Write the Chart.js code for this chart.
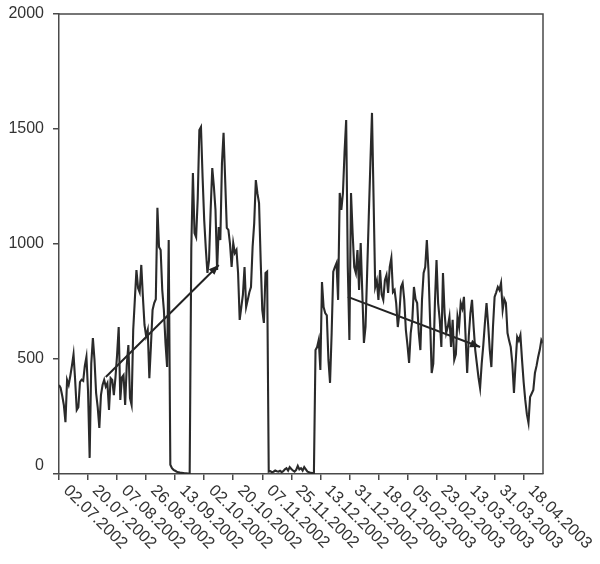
<!DOCTYPE html>
<html>
<head>
<meta charset="utf-8">
<script src="https://cdn.jsdelivr.net/npm/chart.js@4/dist/chart.umd.min.js"></script>
<style>
  html, body { margin: 0; padding: 0; background: #fff; }
  #wrap { width: 600px; height: 564px; }
</style>
</head>
<body>
<div id="wrap"><canvas id="c" width="600" height="564"></canvas></div>
<script>
// Date labels, one every 18 observations
const dateTicks = [
  '02.07.2002', '20.07.2002', '07.08.2002', '26.08.2002', '13.09.2002',
  '02.10.2002', '20.10.2002', '07.11.2002', '25.11.2002', '13.12.2002',
  '31.12.2002', '18.01.2003', '05.02.2003', '23.02.2003', '13.03.2003',
  '31.03.2003', '18.04.2003'
];
const tickStep = 18;

// Daily observations
const values = [
  387, 374, 340, 300, 225, 409, 387, 426, 470, 520,
  409, 278, 290, 400, 410, 405, 470, 509, 360, 70,
  480, 591, 496, 352, 290, 200, 343, 387, 409, 380,
  395, 278, 417, 409, 343, 420, 517, 639, 322, 420,
  430, 300, 474, 561, 330, 300, 626, 757, 887, 809,
  790, 909, 770, 648, 600, 626, 417, 560, 713, 743,
  760, 1157, 987, 974, 800, 713, 570, 465, 1017, 40,
  25, 18, 14, 10, 8, 6, 5, 4, 3, 3,
  2, 2, 980, 1309, 1048, 1030, 1200, 1496, 1509, 1291,
  1104, 980, 874, 930, 1148, 1330, 1250, 1148, 887, 1074,
  1017, 1350, 1483, 1278, 1070, 1061, 1000, 900, 1004, 961,
  974, 874, 670, 726, 780, 900, 726, 757, 790, 813,
  987, 1091, 1278, 1220, 1178, 930, 713, 657, 874, 880,
  10, 12, 8, 10, 15, 12, 10, 14, 8, 12,
  20, 25, 15, 30, 22, 15, 10, 18, 35, 20,
  25, 15, 30, 20, 10, 8, 5, 4, 3, 539,
  552, 583, 452, 835, 726, 700, 690, 496, 396, 613,
  880, 900, 917, 757, 1222, 1148, 1222, 1400, 1539, 900,
  583, 1222, 1048, 900, 874, 974, 800, 1004, 787, 570,
  640, 874, 1117, 1350, 1570, 1191, 813, 840, 757, 887,
  780, 757, 843, 865, 787, 900, 939, 791, 800, 743,
  639, 700, 813, 830, 757, 626, 560, 483, 613, 670,
  813, 760, 743, 613, 539, 757, 874, 900, 1017, 887,
  670, 439, 480, 743, 930, 743, 670, 552, 874, 700,
  613, 640, 683, 552, 670, 496, 520, 683, 639, 743,
  720, 770, 600, 439, 600, 700, 757, 640, 539, 480,
  420, 374, 480, 560, 657, 743, 650, 540, 465, 640,
  770, 790, 813, 800, 830, 713, 760, 743, 613, 580,
  552, 480, 352, 480, 596, 580, 604, 496, 400, 322,
  260, 222, 335, 350, 365, 439, 470, 509, 540, 583,
  570
];

// Trend arrows (observation index, value)
const trendUpX = [29, 99];
const trendUpY = [422, 909];
const trendDownX = [179, 261];
const trendDownY = [770, 552];

const yTicks = [0, 500, 1000, 1500, 2000];

const ink = '#333333';
const axisColor = '#4a4a4a';
const valueFont = '16px "Liberation Sans", Arial, sans-serif';
const dateFont = '16.5px "Liberation Sans", Arial, sans-serif';

const series = values.map((v, i) => ({ x: i, y: v }));
const toPoints = (xs, ys) => xs.map((x, i) => ({ x: x, y: ys[i] }));

// Frame, axis labels and arrowheads
const decorations = {
  id: 'decorations',
  afterDraw(chart) {
    const ctx = chart.ctx;
    const a = chart.chartArea;
    const xs = chart.scales.x;
    const ys = chart.scales.y;
    ctx.save();

    // top and right edges of the plot box
    ctx.strokeStyle = axisColor;
    ctx.lineWidth = 1.5;
    ctx.beginPath();
    ctx.moveTo(a.left, a.top);
    ctx.lineTo(a.right, a.top);
    ctx.lineTo(a.right, a.bottom);
    ctx.stroke();

    // arrowheads at the end of each trend line
    [1, 2].forEach(idx => {
      const pts = chart.getDatasetMeta(idx).data;
      const p0 = pts[0], p1 = pts[pts.length - 1];
      const ang = Math.atan2(p1.y - p0.y, p1.x - p0.x);
      const len = 10, half = 4;
      ctx.fillStyle = '#222';
      ctx.beginPath();
      ctx.moveTo(p1.x, p1.y);
      ctx.lineTo(p1.x - len * Math.cos(ang) + half * Math.sin(ang), p1.y - len * Math.sin(ang) - half * Math.cos(ang));
      ctx.lineTo(p1.x - len * Math.cos(ang) - half * Math.sin(ang), p1.y - len * Math.sin(ang) + half * Math.cos(ang));
      ctx.closePath();
      ctx.fill();
    });

    ctx.fillStyle = ink;

    // value labels; the zero label sits above its tick, clear of the dates
    ctx.font = valueFont;
    ctx.textAlign = 'right';
    yTicks.forEach(v => {
      const y = ys.getPixelForValue(v);
      ctx.textBaseline = v === 0 ? 'bottom' : 'middle';
      ctx.fillText(String(v), a.left - 15, y);
    });

    // date labels slanting down to the right from each tick
    ctx.font = dateFont;
    ctx.textAlign = 'left';
    ctx.textBaseline = 'middle';
    dateTicks.forEach((t, k) => {
      const x = xs.getPixelForValue(k * tickStep);
      ctx.save();
      ctx.translate(x + 7, a.bottom + 14);
      ctx.rotate(Math.PI / 4);
      ctx.fillText(t, 0, 0);
      ctx.restore();
    });

    ctx.restore();
  }
};

new Chart(document.getElementById('c'), {
  type: 'line',
  data: {
    datasets: [
      {
        data: series,
        borderColor: '#2a2a2a',
        borderWidth: 2.1,
        pointRadius: 0,
        tension: 0,
        fill: false
      },
      {
        data: toPoints(trendUpX, trendUpY),
        borderColor: '#222',
        borderWidth: 2,
        pointRadius: 0,
        tension: 0,
        fill: false
      },
      {
        data: toPoints(trendDownX, trendDownY),
        borderColor: '#222',
        borderWidth: 2,
        pointRadius: 0,
        tension: 0,
        fill: false
      }
    ]
  },
  options: {
    responsive: false,
    animation: false,
    devicePixelRatio: 1,
    layout: { padding: { left: 53, right: 57, top: 14, bottom: 84 } },
    plugins: { legend: { display: false }, tooltip: { enabled: false } },
    scales: {
      x: {
        type: 'linear',
        min: 0,
        max: values.length - 1,
        afterBuildTicks(scale) {
          scale.ticks = dateTicks.map((_, k) => ({ value: k * tickStep }));
        },
        ticks: { display: false },
        grid: { drawOnChartArea: false, drawTicks: true, tickLength: 6, color: axisColor, lineWidth: 1.5 },
        border: { color: axisColor, width: 1.5 }
      },
      y: {
        min: 0,
        max: 2000,
        afterBuildTicks(scale) {
          scale.ticks = yTicks.map(v => ({ value: v }));
        },
        ticks: { display: false },
        grid: { drawOnChartArea: false, drawTicks: true, tickLength: 6, color: axisColor, lineWidth: 1.5 },
        border: { color: axisColor, width: 1.5 }
      }
    }
  },
  plugins: [decorations]
});
</script>
</body>
</html>
